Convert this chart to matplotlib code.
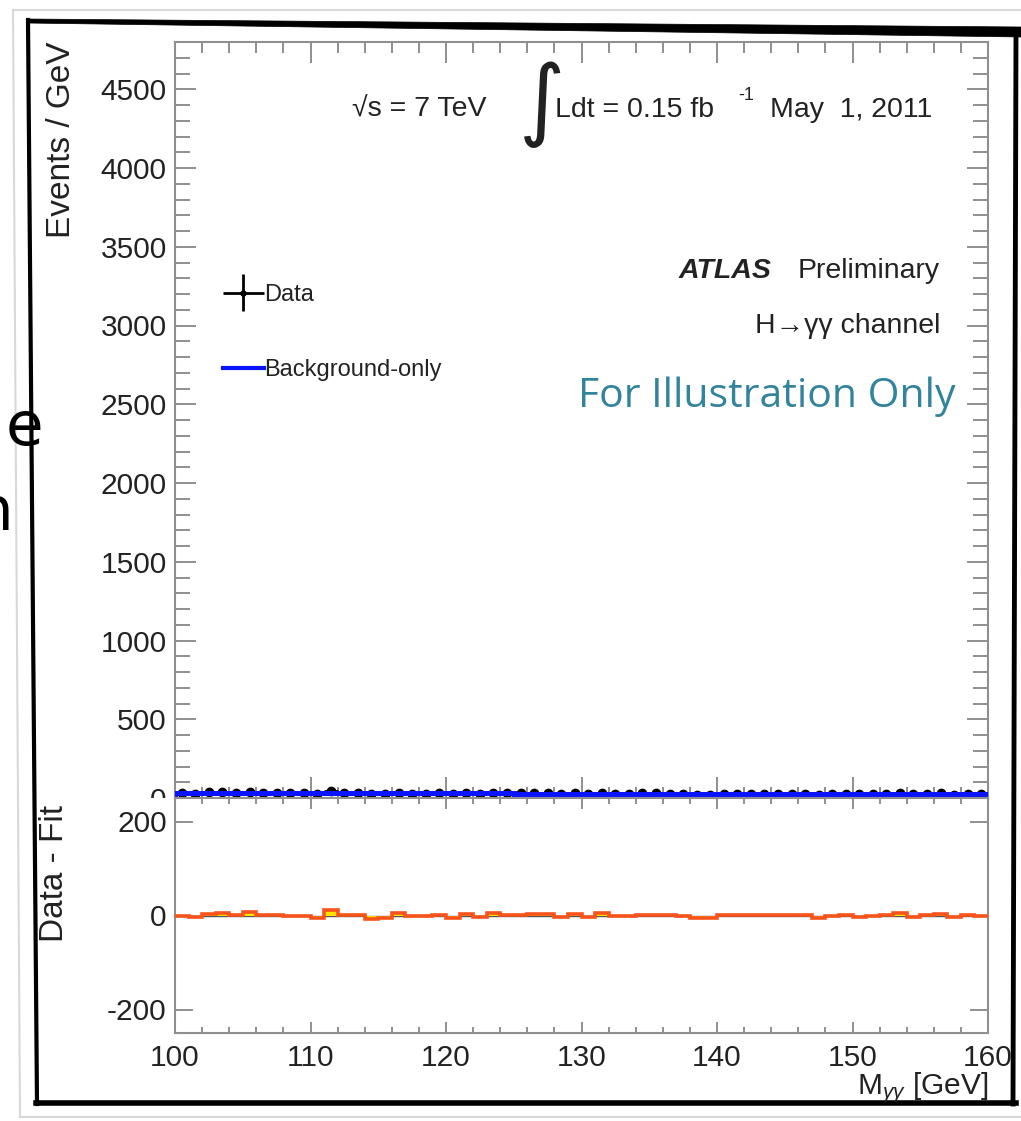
import matplotlib
matplotlib.use("Agg")
import matplotlib.pyplot as plt
import numpy as np
from matplotlib.lines import Line2D
from matplotlib.patches import Rectangle, Polygon
from matplotlib.ticker import MultipleLocator
from matplotlib.container import ErrorbarContainer
from matplotlib.legend_handler import HandlerErrorbar

plt.rcParams['font.family'] = ['Liberation Sans', 'DejaVu Sans']
plt.rcParams['axes.unicode_minus'] = False
plt.rcParams['mathtext.fontset'] = 'custom'
plt.rcParams['mathtext.rm'] = 'Liberation Sans'
plt.rcParams['mathtext.it'] = 'Liberation Sans:italic'

# --- binning: 1 GeV bins from 100 to 160 ---
bin_edges = np.arange(100, 161, 1)
bin_centers = bin_edges[:-1] + 0.5

# background-only fit, events / GeV
background = [31.0, 30.9, 30.8, 30.7, 30.6, 30.5, 30.4, 30.3, 30.2, 30.1,
              30.0, 29.9, 29.8, 29.7, 29.6, 29.5, 29.4, 29.3, 29.2, 29.1,
              29.0, 28.9, 28.8, 28.7, 28.6, 28.5, 28.4, 28.3, 28.2, 28.1,
              28.0, 27.9, 27.8, 27.7, 27.6, 27.5, 27.4, 27.3, 27.2, 27.1,
              27.0, 26.9, 26.8, 26.7, 26.6, 26.5, 26.4, 26.3, 26.2, 26.1,
              26.0, 25.9, 25.8, 25.7, 25.6, 25.5, 25.4, 25.3, 25.2, 25.1]

# observed events per bin
data = [31, 27, 35, 35, 31, 38, 32, 32, 30, 30,
        25, 42, 30, 30, 23, 25, 34, 28, 28, 30,
        24, 33, 26, 33, 30, 30, 32, 32, 25, 32,
        25, 34, 27, 27, 29, 29, 28, 26, 22, 22,
        28, 28, 28, 28, 28, 28, 27, 21, 26, 27,
        23, 25, 27, 30, 23, 27, 29, 22, 26, 23]

x_ticks = [100, 110, 120, 130, 140, 150, 160]
y_ticks_top = [0, 500, 1000, 1500, 2000, 2500, 3000, 3500, 4000, 4500]
y_ticks_bottom = [-200, 0, 200]

background = np.array(background)
data = np.array(data)
residual = data - background

W, H = 1021, 1121
fig = plt.figure(figsize=(W / 100, H / 100), dpi=100)
fig.patch.set_facecolor('white')


def px(x, y):
    # pixel position -> figure fraction
    return x / W, 1 - y / H


ax_left, ax_right = 175, 988
top_y0, top_y1 = 42, 798
bot_y1 = 1033
ax_top = fig.add_axes([ax_left / W, 1 - top_y1 / H, (ax_right - ax_left) / W, (top_y1 - top_y0) / H])
ax_bot = fig.add_axes([ax_left / W, 1 - bot_y1 / H, (ax_right - ax_left) / W, (bot_y1 - top_y1) / H])
ax_top.set_zorder(0)
ax_bot.set_zorder(2)

spine_col = '#8f8f8f'
text_col = '#222222'
blue = '#0a14ff'

for ax in (ax_top, ax_bot):
    for s in ax.spines.values():
        s.set_color(spine_col)
        s.set_linewidth(1.5)
    ax.set_xlim(100, 160)
    ax.xaxis.set_major_locator(MultipleLocator(10))
    ax.xaxis.set_minor_locator(MultipleLocator(2))

# --- upper panel ---
data_pts = ax_top.errorbar(bin_centers, data, yerr=np.sqrt(data), xerr=0.5, fmt='o',
                           color='black', markersize=6, elinewidth=2.0, capsize=0, zorder=2)
ax_top.stairs(background, bin_edges, color=blue, linewidth=3.6, zorder=3)
ax_top.set_ylim(0, 4800)
ax_top.set_yticks(y_ticks_top)
ax_top.yaxis.set_minor_locator(MultipleLocator(100))
ax_top.tick_params(axis='both', which='both', direction='in', top=True, right=True,
                   color=spine_col, width=1.4, labelcolor=text_col, labelsize=21.5)
ax_top.tick_params(axis='y', which='major', length=15, pad=6)
ax_top.tick_params(axis='y', which='minor', length=10.5)
ax_top.tick_params(axis='x', which='major', length=15)
ax_top.tick_params(axis='x', which='minor', length=8)
ax_top.tick_params(axis='x', labelbottom=False)
ax_top.set_ylabel('Events / GeV', fontsize=24, color=text_col, loc='top')
ax_top.yaxis.set_label_coords(-0.121, 1.0)

leg_bkg = Line2D([], [], color=blue, linewidth=3)
ax_top.legend([data_pts, leg_bkg], ['Data', 'Background-only'],
              handler_map={ErrorbarContainer: HandlerErrorbar(xerr_size=0.85, yerr_size=0.8,
                                                              numpoints=1, marker_pad=0.0)},
              loc='upper left', bbox_to_anchor=px(211, 272), bbox_transform=fig.transFigure,
              frameon=False, fontsize=17, handlelength=1.75, handletextpad=0.0,
              labelspacing=2.25, borderpad=0, labelcolor=text_col, markerscale=0.6)

# --- lower panel: data minus fit ---
ax_bot.axhline(0, color='#555555', linewidth=1.0, zorder=1)
ax_bot.stairs(residual, bin_edges, baseline=0, fill=True, color='#ffe400', zorder=2)
ax_bot.stairs(residual, bin_edges, color='#f7531a', linewidth=2.6, zorder=3)
ax_bot.set_ylim(-250, 250)
ax_bot.set_yticks(y_ticks_bottom)
ax_bot.set_xticks(x_ticks)
ax_bot.tick_params(axis='both', which='both', direction='in', top=True, right=True,
                   color=spine_col, width=1.4, labelcolor=text_col, labelsize=21.5)
ax_bot.tick_params(axis='y', which='major', length=13, pad=6)
ax_bot.tick_params(axis='x', which='major', length=8, pad=8)
ax_bot.tick_params(axis='x', which='minor', length=4.5)
ax_bot.set_ylabel('Data - Fit', fontsize=24, color=text_col, loc='top')
ax_bot.yaxis.set_label_coords(-0.129, 0.97)
ax_bot.set_xlabel(r'M$_{\gamma\gamma}$ [GeV]', fontsize=21.5, color=text_col, loc='right')
ax_bot.xaxis.set_label_coords(1.0, -0.16)

# the lower pad hides the bottom of the upper pad's "0" label
fig.patches.append(Rectangle(px(90, 814), 84 / W, 16 / H, transform=fig.transFigure,
                             facecolor='white', edgecolor='none', zorder=1))

# --- header text ---
kw = dict(color=text_col, va='center')
fig.text(*px(486, 110), '√s = 7 TeV', fontsize=20.5, ha='right', **kw)
fig.text(*px(519, 104), '∫', fontsize=64, family=['DejaVu Sans'], ha='left', **kw)
fig.text(*px(555, 110), 'Ldt = 0.15 fb', fontsize=20.5, ha='left', **kw)
fig.text(*px(738, 96), '-1', fontsize=13, ha='left', **kw)
fig.text(*px(770, 110), 'May  1, 2011', fontsize=20.5, ha='left', **kw)

fig.text(*px(679, 271), 'ATLAS', fontsize=20.5, weight='bold', style='italic', ha='left', **kw)
fig.text(*px(940, 271), 'Preliminary', fontsize=20.5, ha='right', **kw)
fig.text(*px(940, 326), 'H→γγ channel', fontsize=20.5, ha='right', **kw)
fig.text(*px(955, 397), 'For Illustration Only', fontsize=29.5, family=['Open Sans', 'DejaVu Sans'],
         color='#31849b', va='center', ha='right')

# slide lettering peeking out on the left
fig.text(*px(24, 428), 'e', fontsize=44, family=['DejaVu Sans'], color='black', ha='center', va='center')
fig.text(*px(-6, 514), 'n', fontsize=44, family=['DejaVu Sans'], color='black', ha='center', va='center')

# --- frame around the figure ---
fig.add_artist(Line2D([13 / W, 20 / W], [1 - 10 / H, 1 - 1117 / H], color='#d8d8d8', linewidth=1.5))
fig.add_artist(Line2D([13 / W, 1.0], [1 - 10 / H, 1 - 10 / H], color='#d8d8d8', linewidth=1.5))
fig.add_artist(Line2D([20 / W, 1.0], [1 - 1117 / H, 1 - 1117 / H], color='#d8d8d8', linewidth=1.5))

fig.add_artist(Polygon([px(27, 19), px(1021, 27), px(1021, 37), px(27, 23)],
                       closed=True, facecolor='black', edgecolor='black', linewidth=0.5,
                       transform=fig.transFigure))
fig.add_artist(Line2D([28 / W, 37 / W], [1 - 20 / H, 1 - 1104 / H], color='black', linewidth=3))
fig.add_artist(Line2D([36 / W, 1016 / W], [1 - 1103 / H, 1 - 1103 / H], color='black', linewidth=4))
fig.add_artist(Line2D([1016 / W, 1013 / W], [1 - 32 / H, 1 - 1104 / H], color='black', linewidth=3.5))

fig.savefig('out.png', dpi=100, facecolor='white')
